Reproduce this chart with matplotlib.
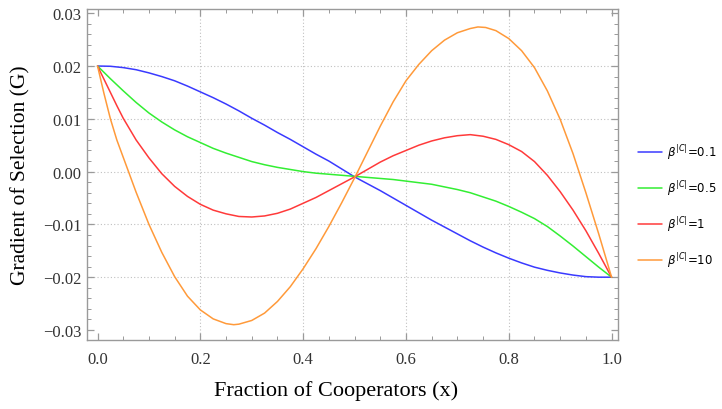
import matplotlib
matplotlib.use("Agg")
import matplotlib.pyplot as plt
from matplotlib.ticker import MultipleLocator, FixedLocator, FuncFormatter

# ---- data ----
x_blue = [0, 0.025, 0.05, 0.075, 0.1, 0.125, 0.15, 0.175, 0.2, 0.225, 0.25, 0.275, 0.3,
          0.325, 0.35, 0.375, 0.4, 0.425, 0.45, 0.475, 0.5, 0.525, 0.55, 0.575, 0.6,
          0.625, 0.65, 0.675, 0.7, 0.725, 0.75, 0.775, 0.8, 0.825, 0.85, 0.875, 0.9,
          0.925, 0.95, 0.975, 1.0]
y_blue = [0.0200, 0.01995, 0.0197, 0.0193, 0.0187, 0.0180, 0.0172, 0.0162, 0.0151,
          0.0140, 0.0128, 0.0115, 0.0101, 0.0088, 0.0074, 0.0061, 0.0047, 0.0033,
          0.0020, 0.0005, -0.0010, -0.0023, -0.0036, -0.0050, -0.0064, -0.0078,
          -0.0092, -0.0105, -0.0118, -0.0131, -0.0143, -0.0154, -0.0164, -0.0173,
          -0.0181, -0.0187, -0.0192, -0.0196, -0.0199, -0.0200, -0.0200]

x_green = [0, 0.025, 0.05, 0.075, 0.1, 0.125, 0.15, 0.175, 0.2, 0.225, 0.25, 0.275, 0.3,
           0.325, 0.35, 0.375, 0.4, 0.425, 0.45, 0.475, 0.5, 0.525, 0.55, 0.575, 0.6,
           0.625, 0.65, 0.675, 0.7, 0.725, 0.75, 0.775, 0.8, 0.825, 0.85, 0.875, 0.9,
           0.925, 0.95, 0.975, 1.0]
y_green = [0.0200, 0.0176, 0.0153, 0.0131, 0.0111, 0.0094, 0.0079, 0.0066, 0.0055,
           0.0044, 0.0035, 0.0027, 0.0019, 0.0013, 0.0008, 0.0004, 0.0000, -0.0003,
           -0.0005, -0.0007, -0.0009, -0.0011, -0.0013, -0.0015, -0.0018, -0.0021,
           -0.0024, -0.0029, -0.0034, -0.0040, -0.0048, -0.0056, -0.0066, -0.0077,
           -0.0089, -0.0104, -0.0122, -0.0141, -0.0161, -0.0181, -0.0200]

x_red = [0, 0.0125, 0.025, 0.0375, 0.05, 0.075, 0.1, 0.125, 0.15, 0.175, 0.2, 0.225, 0.25,
         0.275, 0.3, 0.325, 0.35, 0.375, 0.4, 0.425, 0.45, 0.475, 0.5, 0.525, 0.55,
         0.575, 0.6, 0.625, 0.65, 0.675, 0.7, 0.725, 0.75, 0.775, 0.8, 0.825, 0.85,
         0.875, 0.9, 0.925, 0.95, 0.975, 1.0]
y_red = [0.0200, 0.0175, 0.0150, 0.0125, 0.0101, 0.0060, 0.0026, -0.0004, -0.0028,
         -0.0047, -0.0062, -0.0073, -0.0080, -0.0085, -0.0086, -0.0084, -0.0079,
         -0.0071, -0.0060, -0.0049, -0.0036, -0.0023, -0.0010, 0.0004, 0.0018,
         0.0030, 0.0040, 0.0050, 0.0058, 0.0064, 0.0068, 0.0070, 0.0067, 0.0061,
         0.0051, 0.0038, 0.0019, -0.0007, -0.0038, -0.0073, -0.0112, -0.0155, -0.0200]

x_orange = [0, 0.0125, 0.025, 0.0375, 0.05, 0.075, 0.1, 0.125, 0.15, 0.175, 0.2, 0.225,
            0.25, 0.265, 0.275, 0.3, 0.325, 0.35, 0.375, 0.4, 0.425, 0.45, 0.475, 0.5,
            0.525, 0.55, 0.575, 0.6, 0.625, 0.65, 0.675, 0.7, 0.725, 0.74, 0.755, 0.775,
            0.8, 0.825, 0.85, 0.875, 0.9, 0.925, 0.95, 0.975, 1.0]
y_orange = [0.0200, 0.0148, 0.0100, 0.0060, 0.0027, -0.0039, -0.0100, -0.0153, -0.0199,
            -0.0236, -0.0262, -0.0279, -0.0288, -0.0290, -0.0289, -0.0282, -0.0268,
            -0.0246, -0.0218, -0.0184, -0.0146, -0.0104, -0.0059, -0.0012, 0.0037,
            0.0086, 0.0132, 0.0172, 0.0203, 0.0229, 0.0249, 0.0263, 0.0271, 0.0274,
            0.0273, 0.0267, 0.0252, 0.0229, 0.0197, 0.0153, 0.0099, 0.0034, -0.0040,
            -0.0118, -0.0200]

labels = [r"$\beta^{|C|}$=0.1", r"$\beta^{|C|}$=0.5", r"$\beta^{|C|}$=1", r"$\beta^{|C|}$=10"]
colors = ["#3a3aff", "#33ee33", "#ff3a3a", "#ff9a3a"]

x_ticks = [0.0, 0.2, 0.4, 0.6, 0.8, 1.0]
y_ticks = [-0.03, -0.02, -0.01, 0.0, 0.01, 0.02, 0.03]

# ---- figure ----
fig = plt.figure(figsize=(7.22, 4.10), dpi=100)
ax = fig.add_axes([87 / 722, 1 - 341 / 410, (618 - 87) / 722, (341 - 10) / 410])

serif = ["Liberation Serif", "DejaVu Serif"]

# grid lines (dotted, inner major ticks only)
for gx in x_ticks[1:-1]:
    ax.axvline(gx, color="#c0c0c0", lw=0.8, ls=(0, (1, 2)), zorder=0)
for gy in y_ticks[1:-1]:
    ax.axhline(gy, color="#c0c0c0", lw=0.8, ls=(0, (1, 2)), zorder=0)

series = [(x_blue, y_blue), (x_green, y_green), (x_red, y_red), (x_orange, y_orange)]
for (xs, ys), c, lab in zip(series, colors, labels):
    ax.plot(xs, ys, color=c, lw=1.1, label=lab, solid_joinstyle="round",
            solid_capstyle="round")

ax.set_xlim(-0.0205, 1.0125)
ax.set_ylim(-0.0319, 0.0308)

ax.xaxis.set_major_locator(FixedLocator(x_ticks))
ax.xaxis.set_minor_locator(MultipleLocator(0.05))
ax.yaxis.set_major_locator(FixedLocator(y_ticks))
ax.yaxis.set_minor_locator(MultipleLocator(0.002))
ax.xaxis.set_major_formatter(FuncFormatter(lambda v, p: f"{v:.1f}"))
ax.yaxis.set_major_formatter(FuncFormatter(lambda v, p: f"{v:.2f}".replace("-", "\u2212")))

gray = "#9a9a9a"
for s in ax.spines.values():
    s.set_color(gray)
    s.set_linewidth(1.0)
ax.tick_params(which="both", direction="in", top=True, right=True, color=gray)
ax.tick_params(which="major", length=5, width=0.9)
ax.tick_params(which="minor", length=3, width=0.7)
ax.tick_params(axis="x", which="major", pad=8, labelsize=12, labelcolor="#333333")
ax.tick_params(axis="y", which="major", pad=4, labelsize=12, labelcolor="#333333")
for t in ax.get_xticklabels() + ax.get_yticklabels():
    t.set_family(serif)

ax.set_xlabel("Fraction of Cooperators (x)", family=serif, fontsize=16)
ax.xaxis.set_label_coords((336 - 87) / 531, -(381 - 341) / 331)
ax.set_ylabel("Gradient of Selection (G)", family=serif, fontsize=15.5, labelpad=9)

leg = ax.legend(loc="center left", bbox_to_anchor=(1.038, 0.405), frameon=False,
                borderaxespad=0, borderpad=0, handlelength=2.0, handletextpad=0.45,
                labelspacing=1.45, prop={"size": 8.5})

fig.savefig("out.png", dpi=100)
